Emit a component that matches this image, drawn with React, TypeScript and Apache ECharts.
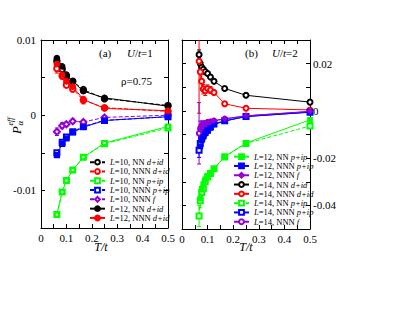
import React, { useEffect, useRef } from 'react';
import * as echarts from 'echarts';

// ---------- data : panel (a) U/t=1 ----------
const T_A = [0.0625, 0.0833, 0.1, 0.125, 0.1667, 0.25, 0.5];
const A_L10_NN_D = [0.0072, 0.0061, 0.0052, 0.0045, 0.0034, 0.0022, 0.0013];
const A_L10_NNN_D = [0.0062, 0.0052, 0.004, 0.0035, 0.002, 0.001, 0.0005];
const A_L10_NN_P = [-0.0132, -0.0102, -0.0087, -0.0073, -0.0056, -0.0038, -0.0017];
const A_L10_NNN_P = [-0.005, -0.0036, -0.0029, -0.0022, -0.0015, -0.0007, -0.0002];
const A_L10_NNN_F = [-0.0022, -0.0014, -0.0012, -0.0008, -0.0009, -0.0003, 0.0];
const A_L12_NN_D = [0.0076, 0.0065, 0.0054, 0.0045, 0.0032, 0.0023, 0.0012];
const A_L12_NNN_D = [0.0068, 0.0054, 0.0045, 0.0038, 0.0021, 0.0009, 0.0006];
const A_L12_NN_P = [-0.0132, -0.0102, -0.0087, -0.0073, -0.0056, -0.0037, -0.0015];
const A_L12_NNN_P = [-0.0053, -0.0038, -0.0031, -0.0023, -0.0016, -0.0007, -0.0002];
const A_L10_NNN_D_ERR = [0.0006, 0.0004, 0.0003, 0.0004, 0.0005, 0.0002, 0.0001];
const A_L10_NNN_F_ERR = [0.0005, 0.0004, 0.0003, 0.0003, 0.0002, 0.0002, 0.0001];

// ---------- data : panel (b) U/t=2 ----------
const T_B14 = [0.0667, 0.0714, 0.0769, 0.0833, 0.0909, 0.1, 0.1111, 0.125, 0.1667, 0.25, 0.5];
const T_B12 = [0.0714, 0.0769, 0.0833, 0.0909, 0.1, 0.1111, 0.125, 0.1667, 0.25, 0.5];
const B_L12_NN_P = [-0.037, -0.033, -0.031, -0.029, -0.0275, -0.0262, -0.0245, -0.0193, -0.0136, -0.0038];
const B_L12_NNN_P = [-0.015, -0.0125, -0.011, -0.0095, -0.0085, -0.0072, -0.0058, -0.0043, -0.0024, -0.0005];
const B_L12_NNN_F = [-0.008, -0.0065, -0.0058, -0.0052, -0.0048, -0.0045, -0.0041, -0.0034, -0.0021, -0.0002];
const B_L14_NN_D = [0.0238, 0.02, 0.0185, 0.0176, 0.0166, 0.0158, 0.0143, 0.0125, 0.0095, 0.0066, 0.0037];
const B_L14_NNN_D = [0.021, 0.0165, 0.0125, 0.0092, 0.0085, 0.0095, 0.0088, 0.0078, 0.003, 0.0011, 0.0004];
const B_L14_NN_P = [-0.0445, -0.038, -0.0345, -0.033, -0.03, -0.028, -0.0265, -0.0245, -0.0195, -0.0138, -0.0064];
const B_L14_NNN_P = [-0.0167, -0.0138, -0.0117, -0.0103, -0.009, -0.0081, -0.0067, -0.0055, -0.0042, -0.0024, -0.0006];
const B_L14_NNN_F = [-0.0095, -0.0074, -0.0062, -0.0058, -0.0053, -0.0048, -0.0046, -0.0042, -0.0034, -0.0021, -0.0003];
const B_L14_NN_D_ERR = [0.002, 0.001, 0.001, 0.0008, 0.0008, 0.0006, 0.0006, 0.0005, 0.0004, 0.0003, 0.0002];
const B_L14_NNN_D_ERR = [0.022, 0.004, 0.003, 0.002, 0.002, 0.0015, 0.0015, 0.001, 0.001, 0.0005, 0.0003];
const B_L14_NN_P_ERR = [0.0045, 0.003, 0.002, 0.0015, 0.001, 0.001, 0.0008, 0.0006, 0.0005, 0.0003, 0.0002];
const B_L14_NNN_P_ERR = [0.003, 0.002, 0.0015, 0.001, 0.001, 0.0008, 0.0006, 0.0005, 0.0004, 0.0003, 0.0002];
const B_L14_NNN_F_ERR = [0.013, 0.003, 0.002, 0.0015, 0.001, 0.001, 0.001, 0.0008, 0.0005, 0.0003, 0.0002];

// tick / legend labels
const LEGEND_A = [
  'L=10, NN d+id', 'L=10, NNN d+id', 'L=10, NN p+ip', 'L=10, NNN p+ip',
  'L=10, NNN f', 'L=12, NN d+id', 'L=12, NNN d+id',
];
const LEGEND_B = [
  'L=12, NN p+ip', 'L=12, NNN p+ip', 'L=12, NNN f', 'L=14, NN d+id',
  'L=14, NNN d+id', 'L=14, NN p+ip', 'L=14, NNN p+ip', 'L=14, NNN f',
];

const BLACK = '#000000';
const RED = '#ff0000';
const GREEN = '#00ff00';
const BLUE = '#0000ff';
const PURPLE = '#9400d3';
const SERIF = '"Liberation Serif", "DejaVu Serif", serif';

const pts = (t: number[], v: number[]) => t.map((x, i) => [x, v[i]]);

function lineSeries(
  name: string, t: number[], v: number[], color: string, symbol: string,
  size: number, dashed: boolean, panel: number, z = 3,
) {
  const idx = panel === 0 ? 0 : 2;
  return {
    type: 'line', name, xAxisIndex: idx, yAxisIndex: idx,
    data: pts(t, v), symbol, symbolSize: size,
    lineStyle: { color, width: 1, type: dashed ? [4, 2] : 'solid' },
    itemStyle: { color, borderColor: color, borderWidth: 1.2 },
    z, emphasis: { disabled: true },
  };
}

function errSeries(t: number[], v: number[], e: number[], color: string, panel: number) {
  const idx = panel === 0 ? 0 : 2;
  const data = t.map((x, i) => [x, v[i] - e[i], v[i] + e[i]]);
  return {
    type: 'custom', xAxisIndex: idx, yAxisIndex: idx, clip: true, z: 2,
    silent: true,
    encode: { x: 0, y: [1, 2] },
    data,
    renderItem: (_p: any, api: any) => {
      const x = api.value(0);
      const a = api.coord([x, api.value(2)]);
      const b = api.coord([x, api.value(1)]);
      const w = 2;
      const style = { stroke: color, lineWidth: 1 };
      return {
        type: 'group',
        children: [
          { type: 'line', shape: { x1: a[0], y1: a[1], x2: b[0], y2: b[1] }, style },
          { type: 'line', shape: { x1: a[0] - w, y1: a[1], x2: a[0] + w, y2: a[1] }, style },
          { type: 'line', shape: { x1: b[0] - w, y1: b[1], x2: b[0] + w, y2: b[1] }, style },
        ],
      };
    },
  };
}

const legendFmt = (name: string) => {
  const m = name.match(/^L=(\d+), (NNN|NN) (.+)$/);
  if (!m) return name;
  return `{i|L}{n|=${m[1]}, ${m[2]} }{i|${m[3]}}`;
};

const legendRich = {
  i: { fontFamily: SERIF, fontSize: 8.5, fontStyle: 'italic', color: '#000', lineHeight: 9.3 },
  n: { fontFamily: SERIF, fontSize: 8.5, color: '#000', lineHeight: 9.3 },
};

function xAxisDef(grid: number, top: boolean) {
  return {
    type: 'value', gridIndex: grid, min: 0, max: 0.5, interval: 0.05,
    position: top ? 'top' : 'bottom',
    axisLine: { show: true, onZero: false, lineStyle: { color: '#000', width: 1 } },
    axisTick: { show: true, inside: true, length: 4, lineStyle: { color: '#000' } },
    splitLine: { show: false },
    axisLabel: {
      show: !top, margin: 4, fontFamily: SERIF, fontSize: 11, color: '#000',
      formatter: (v: number) => {
        const r = Math.round(v * 100);
        if (r % 10 !== 0) return '';
        return r === 0 ? '0' : String(r / 100);
      },
    },
  };
}

function yAxisDef(grid: number, pos: 'left' | 'right', min: number, max: number,
  interval: number, labels: boolean, labelStep: number, margin: number) {
  return {
    type: 'value', gridIndex: grid, min, max, interval, position: pos,
    axisLine: { show: true, onZero: false, lineStyle: { color: '#000', width: 1 } },
    axisTick: { show: true, inside: true, length: 4, lineStyle: { color: '#000' } },
    splitLine: { show: false },
    axisLabel: {
      show: labels, margin, fontFamily: SERIF, fontSize: 11, color: '#000',
      formatter: (v: number) => {
        const r = Math.round(v * 1000);
        if (r % labelStep !== 0) return '';
        return r === 0 ? '0' : String(r / 1000);
      },
    },
  };
}

const txt = (text: string, x: number, y: number, size: number, italic = false, align = 'left') => ({
  type: 'text', x, y,
  style: {
    text, fill: '#000', fontFamily: SERIF, fontSize: size,
    fontStyle: italic ? 'italic' : 'normal', textAlign: align, textVerticalAlign: 'middle',
  },
});

const richTxt = (text: string, x: number, y: number, size: number) => ({
  type: 'text', x, y,
  style: {
    text, fill: '#000', fontFamily: SERIF, fontSize: size, textVerticalAlign: 'middle',
    rich: {
      i: { fontFamily: SERIF, fontSize: size, fontStyle: 'italic', fill: '#000' },
      n: { fontFamily: SERIF, fontSize: size, fill: '#000' },
    },
  },
});

export default function App() {
  const ref = useRef<HTMLDivElement>(null);
  useEffect(() => {
    if (!ref.current) return;
    const chart = echarts.init(ref.current, null, { renderer: 'svg' });
    const series: any[] = [
      // panel a error bars
      errSeries(T_A, A_L10_NNN_D, A_L10_NNN_D_ERR, RED, 0),
      errSeries(T_A, A_L10_NNN_F, A_L10_NNN_F_ERR, PURPLE, 0),
      // panel a
      lineSeries('L=10, NN d+id', T_A, A_L10_NN_D, BLACK, 'emptyCircle', 5.5, true, 0),
      lineSeries('L=10, NNN d+id', T_A, A_L10_NNN_D, RED, 'emptyCircle', 5.5, true, 0),
      lineSeries('L=10, NN p+ip', T_A, A_L10_NN_P, GREEN, 'emptyRect', 5, true, 0),
      lineSeries('L=10, NNN p+ip', T_A, A_L10_NNN_P, BLUE, 'emptyRect', 5, true, 0),
      lineSeries('L=10, NNN f', T_A, A_L10_NNN_F, PURPLE, 'emptyDiamond', 6, true, 0),
      lineSeries('a: L=12, NN p+ip', T_A, A_L12_NN_P, GREEN, 'emptyRect', 4, false, 0, 3),
      lineSeries('a: L=12, NNN p+ip', T_A, A_L12_NNN_P, BLUE, 'rect', 5, false, 0, 4),
      lineSeries('L=12, NN d+id', T_A, A_L12_NN_D, BLACK, 'circle', 5.5, false, 0, 4),
      lineSeries('L=12, NNN d+id', T_A, A_L12_NNN_D, RED, 'circle', 5.5, false, 0, 4),
      // panel b error bars
      errSeries(T_B14, B_L14_NN_D, B_L14_NN_D_ERR, BLACK, 1),
      errSeries(T_B14, B_L14_NNN_D, B_L14_NNN_D_ERR, RED, 1),
      errSeries(T_B14, B_L14_NN_P, B_L14_NN_P_ERR, GREEN, 1),
      errSeries(T_B14, B_L14_NNN_P, B_L14_NNN_P_ERR, BLUE, 1),
      errSeries(T_B14, B_L14_NNN_F, B_L14_NNN_F_ERR, PURPLE, 1),
      // panel b
      lineSeries('L=12, NN p+ip', T_B12, B_L12_NN_P, GREEN, 'rect', 4.5, false, 1, 4),
      lineSeries('L=12, NNN p+ip', T_B12, B_L12_NNN_P, BLUE, 'rect', 4.5, false, 1, 4),
      lineSeries('L=12, NNN f', T_B12, B_L12_NNN_F, PURPLE, 'diamond', 4.5, false, 1, 4),
      lineSeries('L=14, NN d+id', T_B14, B_L14_NN_D, BLACK, 'emptyCircle', 5, false, 1),
      lineSeries('L=14, NNN d+id', T_B14, B_L14_NNN_D, RED, 'emptyCircle', 5, false, 1),
      lineSeries('L=14, NN p+ip', T_B14, B_L14_NN_P, GREEN, 'emptyRect', 5, true, 1),
      lineSeries('L=14, NNN p+ip', T_B14, B_L14_NNN_P, BLUE, 'emptyRect', 5, false, 1),
      lineSeries('L=14, NNN f', T_B14, B_L14_NNN_F, PURPLE, 'emptyCircle', 4.5, false, 1),
    ];

    chart.setOption({
      animation: false,
      backgroundColor: '#ffffff',
      grid: [
        { left: 41, top: 40, width: 127, height: 188 },
        { left: 182, top: 40, width: 128, height: 189 },
      ],
      xAxis: [xAxisDef(0, false), xAxisDef(0, true), xAxisDef(1, false), xAxisDef(1, true)],
      yAxis: [
        yAxisDef(0, 'left', -0.015, 0.01, 0.005, true, 10, 5),
        yAxisDef(0, 'right', -0.015, 0.01, 0.005, false, 10, 5),
        yAxisDef(1, 'right', -0.05, 0.03, 0.01, true, 20, 3),
        yAxisDef(1, 'left', -0.05, 0.03, 0.01, false, 20, 3),
      ],
      legend: [
        {
          data: LEGEND_A, orient: 'vertical', left: 89, top: 157.5,
          itemWidth: 15, itemHeight: 6, itemGap: 0, padding: 0,
          formatter: legendFmt, selectedMode: false,
          textStyle: { fontFamily: SERIF, fontSize: 8.5, color: '#000', lineHeight: 9.3, rich: legendRich },
        },
        {
          data: LEGEND_B, orient: 'vertical', left: 233, top: 152,
          itemWidth: 15, itemHeight: 6, itemGap: 0, padding: 0,
          formatter: legendFmt, selectedMode: false,
          textStyle: { fontFamily: SERIF, fontSize: 8.5, color: '#000', lineHeight: 9.3, rich: legendRich },
        },
      ],
      graphic: [
        txt('(a)', 99, 53, 11),
        richTxt('{i|U}{n|/}{i|t}{n|=1}', 127, 53, 11),
        txt('ρ=0.75', 121, 81, 11),
        txt('(b)', 245, 53, 11),
        richTxt('{i|U}{n|/}{i|t}{n|=2}', 272, 53, 11),
        txt('T/t', 101, 247, 12, true, 'center'),
        txt('T/t', 246, 247, 12, true, 'center'),
        {
          type: 'group', x: 16, y: 134, rotation: Math.PI / 2,
          children: [
            txt('P', 0, 0, 13, true),
            txt('α', 8.5, 3.5, 9, true),
            txt('eff', 8.5, -6, 8, true),
          ],
        },
      ],
      series,
    });
    return () => chart.dispose();
  }, []);
  return (
    <div
      ref={ref}
      style={{ position: 'absolute', left: 0, top: 0, width: 415, height: 321, background: '#fff' }}
    />
  );
}
